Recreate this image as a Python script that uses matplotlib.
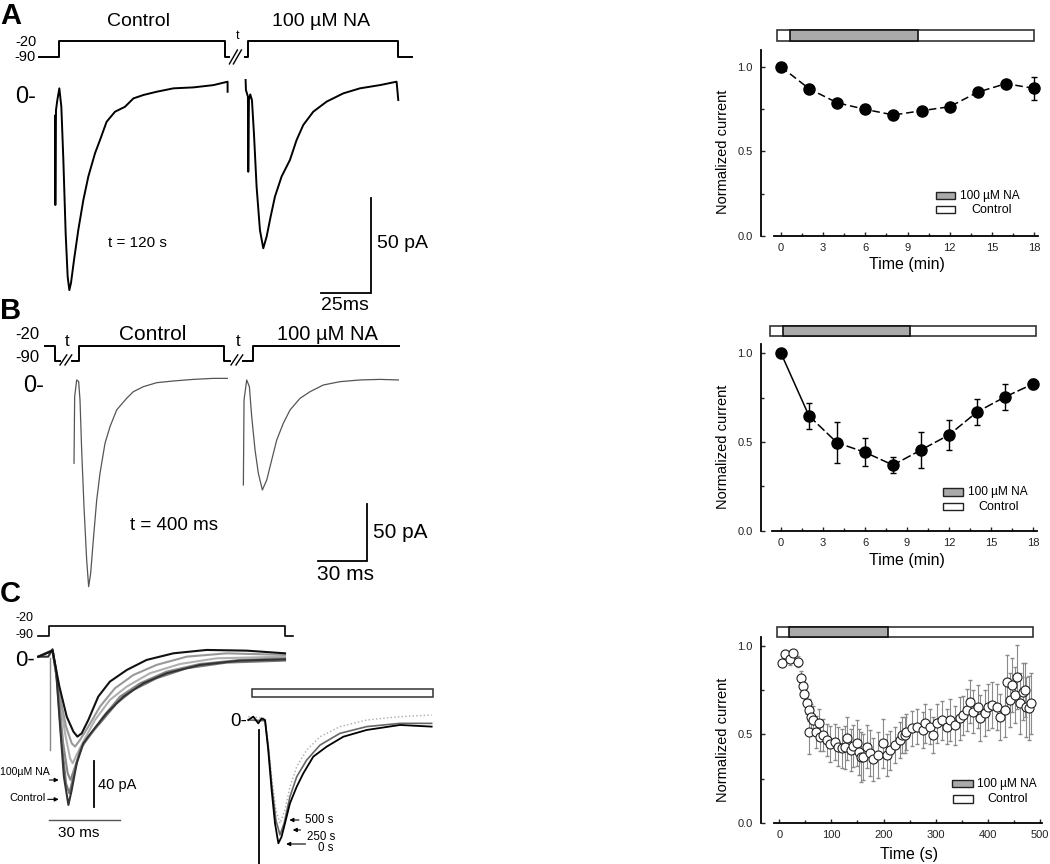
import matplotlib.pyplot as plt
from matplotlib.patches import Rectangle

plt.rcParams['font.family'] = ['Liberation Sans', 'DejaVu Sans']

W, H = 1050, 864

# ---------------- summary plots (right column) ----------------
time_min = [0, 2, 4, 6, 8, 10, 12, 14, 16, 18]
norm_a = [1.0, 0.87, 0.787, 0.748, 0.715, 0.74, 0.764, 0.85, 0.90, 0.872]
err_a = [0.01, 0.015, 0.015, 0.015, 0.015, 0.015, 0.015, 0.02, 0.02, 0.067]
norm_b = [1.0, 0.647, 0.496, 0.442, 0.37, 0.455, 0.54, 0.669, 0.754, 0.827]
err_b = [0.01, 0.075, 0.117, 0.08, 0.047, 0.1, 0.085, 0.074, 0.071, 0.03]

time_c = [5.8, 11, 20.5, 27, 36.5, 41.6, 45, 48, 52.5, 57, 57.6, 60, 65, 70, 76,
          78, 84, 91, 97, 107, 113, 120, 126, 129, 137, 142, 150, 153, 157, 161,
          168, 174, 180, 190, 199.5, 206, 212, 222, 231.5, 235, 241, 244, 254,
          263.6, 275, 279.5, 289, 295.5, 302, 311.5, 321, 327.5, 337, 346.6, 353,
          359.5, 366, 372, 382, 385, 394.6, 401, 407.5, 417, 423, 433, 436, 442.6,
          446, 452, 455, 462, 468, 471, 473, 478, 482]
norm_c = [0.90, 0.953, 0.923, 0.957, 0.91, 0.816, 0.773, 0.728, 0.675, 0.638, 0.512,
          0.60, 0.58, 0.515, 0.566, 0.487, 0.497, 0.469, 0.446, 0.459, 0.431, 0.422,
          0.428, 0.478, 0.412, 0.435, 0.454, 0.403, 0.375, 0.375, 0.431, 0.394, 0.36,
          0.384, 0.45, 0.384, 0.412, 0.44, 0.469, 0.497, 0.497, 0.515, 0.535, 0.544,
          0.525, 0.563, 0.544, 0.497, 0.563, 0.581, 0.544, 0.581, 0.553, 0.591, 0.609,
          0.638, 0.684, 0.628, 0.656, 0.591, 0.619, 0.656, 0.666, 0.656, 0.60, 0.638,
          0.797, 0.694, 0.778, 0.722, 0.825, 0.675, 0.74, 0.75, 0.656, 0.647, 0.675]
err_c = [0.02, 0.02, 0.03, 0.02, 0.03, 0.04, 0.05, 0.05, 0.06, 0.06, 0.12,
         0.07, 0.08, 0.09, 0.08, 0.08, 0.09, 0.09, 0.10, 0.10, 0.11, 0.11,
         0.12, 0.12, 0.12, 0.12, 0.13, 0.13, 0.14, 0.13, 0.12, 0.13, 0.12,
         0.13, 0.14, 0.12, 0.11, 0.10, 0.10, 0.10, 0.10, 0.10, 0.10, 0.10,
         0.10, 0.11, 0.10, 0.10, 0.11, 0.11, 0.10, 0.12, 0.11, 0.12, 0.11,
         0.12, 0.12, 0.12, 0.12, 0.13, 0.13, 0.13, 0.13, 0.13, 0.13, 0.15,
         0.15, 0.15, 0.15, 0.16, 0.18, 0.17, 0.16, 0.15, 0.17, 0.18, 0.17]

# application bars: (start, end) of the whole record and of the NA period
bar_a = (-0.3, 18.0)
na_a = (0.64, 9.74)
bar_b = (-0.8, 18.2)
na_b = (0.14, 9.2)
bar_c = (-5, 487)
na_c = (19, 208)

# ---------------- current traces (ms, pA) ----------------
a_ctrl_t = [0, 0.17, 0.5, 1.17, 2.17, 3.17, 4.17, 5.33, 6.33, 7.17, 8, 9.5, 11.67,
            14.17, 16.67, 20, 22.5, 25.8, 30, 35, 39.2, 44.2, 50.8, 59.2, 69.2,
            79.2, 86.3, 86.3]
a_ctrl_i = [-10, -57, -7, -1.75, 4.4, -5.3, -33, -72, -94.7, -101.8, -98, -86,
            -70, -54.4, -42, -29.8, -22.8, -13.2, -7.9, -5.3, -0.9, 0.9, 2.6,
            4.4, 4.9, 6.1, 7.9, 2.6]
a_na_t = [0, 0.17, 1.17, 1.33, 1.67, 2.33, 3.17, 4.17, 5.5, 7.17, 8.83, 10.5,
          12.5, 14.67, 18, 22.17, 25.5, 28.83, 33.83, 40.5, 48.83, 57.17, 67.17,
          75.5, 76.33]
a_na_i = [8.8, 3.5, 0, -39.5, -1.75, 1.2, -1.75, -19.3, -47.4, -70.2, -79.8,
          -73.7, -63.2, -52.6, -42, -33.3, -22.8, -14.9, -7.9, -2.6, 1.75, 4.4,
          6.1, 7.9, -1.75]

b_ctrl_t = [0, 0.41, 1.66, 2.9, 3.73, 4.76, 6.2, 7.87, 9.1, 10.35, 12, 14.1,
            16.15, 19.25, 22.36, 26.5, 32.7, 36.85, 43.06, 51.35, 61.7, 74.1,
            86.5, 95.2]
b_ctrl_i = [-67.8, -9.4, 5.3, 3.8, -12.3, -56.1, -105.8, -152.6, -176, -164.3,
            -135, -100, -76.6, -50.3, -35.7, -21, -10.8, -5, -0.6, 2.9, 4.4,
            5.8, 6.7, 6.7]
b_na_t = [0, 0.41, 2.07, 3.73, 5.18, 7.25, 9.3, 11.8, 14.5, 17.6, 20.7, 24.8,
          29, 35.2, 41.4, 49.7, 60, 72.5, 84.9, 96.3]
b_na_i = [-86.8, -12.3, 5.3, -0.6, -26.9, -56.1, -76.6, -91.2, -82.5, -64.9,
          -47.4, -32.7, -21, -10.8, -5, 0.9, 3.8, 5.3, 5.8, 5.3]

# panel C: family of sweeps recorded during NA application
c_t1 = [0, 4.2, 6.0, 7.5, 9.1, 10.8, 12.7, 14.1, 16.2, 19.0, 23.2, 28.8, 35.9,
        44.3, 54.1, 68.2, 85.1, 104.1]
c_i1 = [1.4, 1.4, 7.8, -10.1, -56, -102, -126.4, -113.5, -90.5, -73.3, -61.8,
        -47.4, -33, -21.6, -12.9, -5.7, -2, -0.9]
c_t2 = [0, 6.0, 7.7, 9.8, 11.7, 13.1, 14.8, 17.6, 21.1, 26.0, 33.1, 40.1, 49.9,
        62.6, 79.5, 104.1]
c_i2 = [1.4, 7.2, -15.8, -70.4, -107.8, -116.4, -102, -79, -67.5, -56, -38.8,
        -27.3, -17.2, -8.6, -3.7, -2]
c_t3 = [0, 6.0, 8.0, 10.5, 12.4, 13.6, 15.5, 18.3, 22.5, 27.4, 34.5, 42.9, 54.1,
        68.2, 85.1, 104.1]
c_i3 = [1.4, 6.6, -18.7, -73.3, -99.1, -104.9, -93.4, -76.1, -64.7, -50.3, -33,
        -21.6, -11.5, -4.9, -1.4, 0]
c_t4 = [0, 6.0, 8.4, 11.3, 13.4, 14.5, 16.5, 19.7, 23.9, 30.2, 37.3, 47.1, 59.8,
        75.2, 104.1]
c_i4 = [1.4, 6.6, -24.4, -64.7, -86.2, -90.5, -81.9, -69, -53.2, -35.9, -24.4,
        -12.9, -4.9, 0, 1.4]
c_t5 = [0, 6.0, 8.9, 12.0, 14.8, 16.5, 18.3, 21.1, 25.3, 30.2, 37.3, 45.7, 57.0,
        71.0, 87.9, 104.1]
c_i5 = [1.4, 6.6, -24.4, -50.3, -63.2, -67.5, -64.7, -53.2, -33, -20.1, -10.1,
        -1.4, 4.3, 7.2, 6.6, 4.3]
c_t6 = [0, 6.0, 8.6, 11.7, 14.1, 15.5, 17.6, 21.1, 26.0, 32.3, 40.1, 49.9, 62.6,
        79.5, 104.1]
c_i6 = [1.4, 6.6, -27.3, -58.9, -73.3, -76.1, -70.4, -58.9, -41.7, -25.9, -14.4,
        -5.7, 1.4, 4.3, 2.9]
c_artifact_t = [4.9, 4.9]
c_artifact_i = [0, -79]

# inset: sweeps at 0 s, 250 s and 500 s
ins_t0 = [0, 2.8, 5.6, 7.5, 9.4, 11.2, 13.1, 15, 16.9, 18.7, 20.6, 23.4, 27.2,
          30.9, 36.5, 44, 53.4, 66.5, 85.2, 103]
ins_i0 = [0, 2.9, -2.9, 1.4, 0, -25.9, -60.3, -89.1, -106.3, -100.6, -89.1,
          -71.8, -57.5, -46, -31.6, -23, -14.4, -8.6, -4.3, -5.7]
ins_t250 = [0, 9.4, 11.2, 13.1, 15.5, 17.8, 20.1, 23.4, 27.2, 32.8, 40.3, 51.5,
            66.5, 85.2, 103]
ins_i250 = [0, -0.6, -23, -54.6, -86.2, -99.1, -89.1, -66.1, -48.9, -34.5,
            -21.6, -11.5, -5.7, -2.9, -2.9]
ins_t500 = [0, 9.4, 11.2, 13.1, 15.5, 17.8, 20.6, 23.4, 27.2, 32.8, 40.3, 51.5,
            66.5, 85.2, 103]
ins_i500 = [2.9, 1.4, -20.1, -48.9, -77.6, -89.1, -77.6, -57.5, -40.2, -25.9,
            -14.4, -5.7, 0, 2.9, 4.3]
ins_artifact_t = [6.2, 6.2]
ins_artifact_i = [-8.6, -130]
ins_bar = (2.1, 103.8)

# voltage protocols (ms, mV)
prot_a1_t = [-7.8, 2.2, 2.2, 85.2, 85.2, 87.2]
prot_a2_t = [95, 96.7, 96.7, 171.7, 171.7, 178.3]
prot_a_v = [-90, -90, -20, -20, -90, -90]
prot_b1_t = [-18, -11.8, -11.8, -8.7]
prot_b1_v = [-20, -20, -90, -90]
prot_b2_t = [-1.4, 3.3, 3.3, 93.2, 93.2, 96.9]
prot_b3_t = [104.8, 111, 111, 202]
prot_b3_v = [-90, -90, -20, -20]
prot_c_t = [0, 4.6, 4.6, 104.1, 104.1, 107.6]

fig = plt.figure(figsize=(W / 100, H / 100), dpi=100)


def px_axes(x0, y0, x1, y1):
    ax = fig.add_axes([x0 / W, 1 - y1 / H, (x1 - x0) / W, (y1 - y0) / H])
    ax.patch.set_visible(False)
    return ax


def ftext(px, py, s, size, **kw):
    kw.setdefault('va', 'center')
    fig.text(px / W, 1 - py / H, s, fontsize=size, **kw)


def fbox(x0, y0, x1, y1, fc):
    fig.add_artist(Rectangle((x0 / W, 1 - y1 / H), (x1 - x0) / W, (y1 - y0) / H,
                             transform=fig.transFigure, fc=fc, ec='#222', lw=1))


def trace_axes(x0, y0, x1, y1, t0, i0, px_ms, px_pa):
    ax = px_axes(x0, y0, x1, y1)
    ax.set_xlim((x0 - t0) / px_ms, (x1 - t0) / px_ms)
    ax.set_ylim(-(y1 - i0) / px_pa, (i0 - y0) / px_pa)
    ax.axis('off')
    return ax


def proto_axes(x0, y0, x1, y1, t0, px_ms, y20, y90):
    ax = px_axes(x0, y0, x1, y1)
    s = (y90 - y20) / 70.0
    ax.set_xlim((x0 - t0) / px_ms, (x1 - t0) / px_ms)
    ax.set_ylim(-90 - (y1 - y90) / s, -20 + (y20 - y0) / s)
    ax.axis('off')
    return ax


def summary_axes(rect, xlim, ylim, xbounds, xmajor, xminor, xlabel, xlab_y):
    ax = px_axes(*rect)
    ax.set_xlim(xlim)
    ax.set_ylim(ylim)
    ax.spines['top'].set_visible(False)
    ax.spines['right'].set_visible(False)
    ax.spines['bottom'].set_bounds(*xbounds)
    for s in ('left', 'bottom'):
        ax.spines[s].set_linewidth(1.3)
    ax.set_xticks(xmajor)
    ax.set_xticks(xminor, minor=True)
    ax.set_yticks([0, 0.5, 1.0])
    ax.set_yticks([0.25, 0.75], minor=True)
    ax.set_yticklabels(['0.0', '0.5', '1.0'])
    ax.tick_params(which='both', direction='in', labelsize=8, width=1,
                   colors='#222')
    ax.tick_params(which='major', length=3)
    ax.tick_params(which='minor', length=2)
    ax.tick_params(axis='y', pad=6)
    ax.tick_params(axis='x', pad=5)
    ax.set_ylabel('Normalized current', fontsize=10.5)
    ax.yaxis.set_label_coords(-0.11, 0.45)
    ax.set_xlabel(xlabel, fontsize=11.5)
    ax.xaxis.set_label_coords(0.52, xlab_y)
    return ax


def stim_bar(rect, xlim, whole, na):
    ax = px_axes(*rect)
    ax.set_xlim(xlim)
    ax.set_ylim(0, 1)
    ax.axis('off')
    ax.barh(0.5, whole[1] - whole[0], left=whole[0], height=1, color='white',
            edgecolor='#333', lw=1.2, clip_on=False)
    ax.barh(0.5, na[1] - na[0], left=na[0], height=1, color='#aaaaaa',
            edgecolor='#111', lw=1.2, clip_on=False)


def scale_bar(ax, t, i, dt, di, **kw):
    ax.plot([t - dt, t, t], [i, i, i + di], color='k', lw=1.3,
            solid_joinstyle='miter', **kw)


# ---------- right: A ----------
rect_a = (761, 49.8, 1042.5, 236)
ax = summary_axes(rect_a, (-1.42, 18.6), (0, 1.1), (-0.5, 18.3),
                  range(0, 19, 3), [1.5, 4.5, 7.5, 10.5, 13.5, 16.5],
                  'Time (min)', -0.115)
ax.errorbar(time_min, norm_a, yerr=err_a, fmt='o', color='k', ms=8,
            ls=(0, (5, 2.5)), lw=1.1, capsize=2, elinewidth=1)
stim_bar((761, 30, 1042.5, 41), (-1.42, 18.6), bar_a, na_a)
fbox(936, 192, 955, 199, '#aaaaaa')
fbox(936, 206, 955, 213, 'white')
ftext(960, 195.5, '100 µM NA', 8.6)
ftext(971, 210, 'Control', 9)

# ---------- right: B ----------
rect_b = (761, 344.4, 1041.4, 530.7)
ax = summary_axes(rect_b, (-1.43, 18.6), (0, 1.05), (-0.66, 18.3),
                  range(0, 19, 3), [1.5, 4.5, 7.5, 10.5, 13.5, 16.5],
                  'Time (min)', -0.12)
ax.plot(time_min[:2], norm_b[:2], color='k', lw=1.1)
ax.errorbar(time_min[1:], norm_b[1:], yerr=err_b[1:], fmt='o', color='k', ms=8,
            ls=(0, (6, 2)), lw=1.1, capsize=2, elinewidth=1)
ax.plot(time_min[0], norm_b[0], 'o', color='k', ms=8)
stim_bar((761, 326, 1041.4, 336), (-1.43, 18.6), bar_b, na_b)
fbox(943, 488, 963, 496, '#aaaaaa')
fbox(943, 503, 963, 510, 'white')
ftext(968, 492, '100 µM NA', 8.6)
ftext(978, 506.5, 'Control', 9)

# ---------- right: C ----------
rect_c = (761, 636.8, 1045.2, 823.3)
ax = summary_axes(rect_c, (-35, 510), (0, 1.05), (-9.6, 503),
                  range(0, 501, 100), range(50, 500, 100), 'Time (s)', -0.125)
ax.errorbar(time_c, norm_c, yerr=err_c, fmt='none', ecolor='#8a8a8a',
            elinewidth=0.8, capsize=1.5, zorder=2)
ax.plot(time_c, norm_c, 'o', ms=6.5, mfc='white', mec='#222', mew=0.8, zorder=3)
stim_bar((761, 627, 1045.2, 637), (-35, 510), bar_c, na_c)
fbox(952, 780, 973, 787, '#aaaaaa')
fbox(953, 795, 973, 803, 'white')
ftext(977, 783.5, '100 µM NA', 8.6)
ftext(987, 799, 'Control', 9)

# ---------- left: A ----------
ax = trace_axes(0, 60, 450, 300, 55, 96.7, 2.0, 1.9)
ax.plot(a_ctrl_t, a_ctrl_i, color='k', lw=1.4)
ax.plot([t + 95.3 for t in a_na_t], a_na_i, color='k', lw=1.4)
scale_bar(ax, 158, -103.2, 25, 50)
pa = proto_axes(0, 30, 450, 72, 55, 2.0, 41.3, 57.3)
pa.plot(prot_a1_t, prot_a_v, color='k', lw=1.4)
pa.plot(prot_a2_t, prot_a_v, color='k', lw=1.4)
pa.plot([87.2, 91.2], [-119, -58], color='k', lw=1)
pa.plot([89.2, 93.2], [-119, -58], color='k', lw=1)
ftext(0, 16, 'A', 21, weight='bold')
ftext(138, 21, 'Control', 14, ha='center')
ftext(321, 22, '100 µM NA', 14, ha='center')
ftext(238, 36, 't', 9, ha='center')
ftext(15, 42, '-20', 10.5)
ftext(14, 57, '-90', 10.5)
ftext(15, 97, '0-', 17)
ftext(137, 243, 't = 120 s', 11, ha='center')
ftext(377, 244, '50 pA', 14)
ftext(345, 305, '25ms', 14, ha='center')

# ---------- left: B ----------
ax = trace_axes(0, 365, 450, 590, 74, 386, 1.61, 1.14)
ax.plot(b_ctrl_t, b_ctrl_i, color='#555', lw=0.9)
ax.plot([t + 105.2 for t in b_na_t], b_na_i, color='#555', lw=0.9)
scale_bar(ax, 181.8, -153.5, 30, 50)
pb = proto_axes(0, 328, 450, 372, 74, 1.61, 345.7, 360.7)
pb.plot(prot_b1_t, prot_b1_v, color='k', lw=1.4)
pb.plot(prot_b2_t, prot_a_v, color='k', lw=1.4)
pb.plot(prot_b3_t, prot_b3_v, color='k', lw=1.4)
for s in (-8.7, -5.6, 97.5, 100.6):
    pb.plot([s, s + 4.2], [-110, -63], color='k', lw=1)
ftext(0, 311, 'B', 21, weight='bold')
ftext(15, 335, '-20', 12)
ftext(15, 357, '-90', 12)
ftext(67, 342, 't', 12, ha='center')
ftext(238, 342, 't', 12, ha='center')
ftext(153, 335, 'Control', 15, ha='center')
ftext(327, 335, '100 µM NA', 14.5, ha='center')
ftext(23, 386, '0-', 17)
ftext(174, 525, 't = 400 ms', 13.5, ha='center')
ftext(373, 532, '50 pA', 15)
ftext(346, 575, '30 ms', 15, ha='center')

# ---------- left: C ----------
ax = trace_axes(0, 645, 300, 830, 38.3, 658.3, 2.37, 1.16)
for tt, ii, col in ((c_t4, c_i4, '#b0b0b0'), (c_t6, c_i6, '#999'),
                    (c_t2, c_i2, '#777'), (c_t3, c_i3, '#888'),
                    (c_t1, c_i1, '#333'), (c_t5, c_i5, '#111')):
    ax.plot(tt, ii, color=col, lw=1.5)
ax.plot(c_artifact_t, c_artifact_i, color='#888', lw=1)
ax.plot([23.6, 23.6], [-88.5, -128.4], color='k', lw=1.3)
ax.plot([4.5, 34.5], [-139.4, -139.4], color='#555', lw=1)
arrow = dict(arrowstyle='-|>', lw=0.8, color='k', mutation_scale=6)
ax.annotate('', xy=(9.8, -104.9), xytext=(3.5, -104.9), arrowprops=arrow)
ax.annotate('', xy=(9.8, -121.6), xytext=(2.8, -121.6), arrowprops=arrow)
pc = proto_axes(0, 612, 300, 645, 38.3, 2.37, 626, 635.7)
pc.plot(prot_c_t, prot_a_v, color='k', lw=1.2)
ftext(0, 594, 'C', 21, weight='bold')
ftext(15, 618, '-20', 9)
ftext(15, 635, '-90', 9)
ftext(15, 660, '0-', 16)
ftext(0, 772, '100µM NA', 7.6)
ftext(9, 798, 'Control', 8)
ftext(98, 785, '40 pA', 10.5)
ftext(79, 833, '30 ms', 11, ha='center')

ax = trace_axes(230, 685, 440, 864, 248.3, 720, 1.78, 1.16)
ax.barh(23.25, ins_bar[1] - ins_bar[0], left=ins_bar[0], height=6.9,
        color='white', edgecolor='#333', lw=1.1, clip_on=False)
ax.plot(ins_t500, ins_i500, color='#aaa', lw=1, ls=':')
ax.plot(ins_t250, ins_i250, color='#666', lw=1.2)
ax.plot(ins_t0, ins_i0, color='k', lw=1.3)
ax.plot(ins_artifact_t, ins_artifact_i, color='k', lw=1.3)
ax.annotate('', xy=(21.5, -86.2), xytext=(30, -86.2), arrowprops=arrow)
ax.annotate('', xy=(23.4, -94.8), xytext=(30.9, -94.8), arrowprops=arrow)
ax.annotate('', xy=(19.7, -106.9), xytext=(33.7, -106.9), arrowprops=arrow)
ftext(230, 722, '0-', 13.5)
ftext(305, 820, '500 s', 8.3)
ftext(307, 837, '250 s', 8.3)
ftext(318, 848, '0 s', 8.3)

fig.savefig('out.png', dpi=100)
